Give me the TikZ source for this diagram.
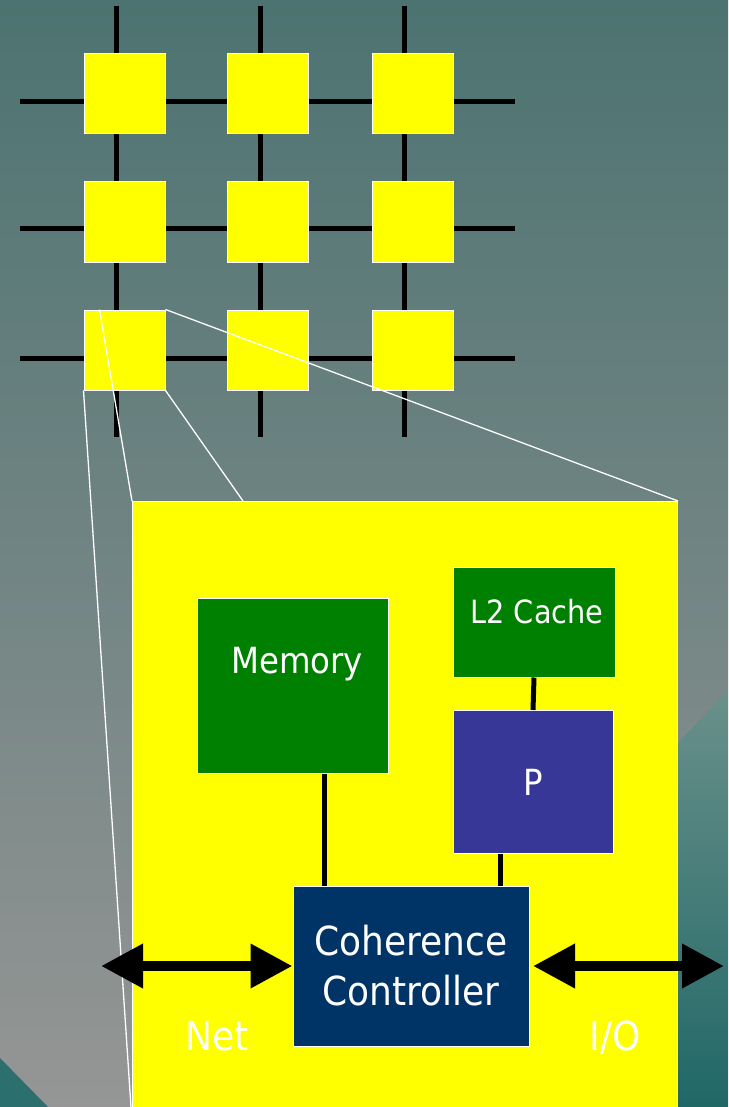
\documentclass[tikz,border=0pt]{standalone}
\usepackage{fontspec}
\setmainfont{DejaVu Sans}[FakeStretch=0.9]
\usepackage{xcolor}
\usetikzlibrary{arrows.meta,positioning,calc}
\definecolor{bgtop}{HTML}{4C7371}
\definecolor{bgmid}{HTML}{858C8B}
\definecolor{bgbot}{HTML}{959695}
\definecolor{tealtop}{HTML}{6A908B}
\definecolor{tealbot}{HTML}{206866}
\definecolor{tileyellow}{RGB}{255,255,0}
\definecolor{memgreen}{RGB}{0,128,0}
\definecolor{cpublue}{RGB}{54,55,151}
\definecolor{ccblue}{RGB}{0,51,102}

\begin{document}
\begin{tikzpicture}[
        x=1pt, y=-1pt,
        tile/.style={
            draw=white,
            line width=1pt,
            fill=tileyellow,
            inner sep=0pt,
            minimum width=81pt,
            minimum height=80pt
        },
        unit/.style={
            draw=white,
            line width=1pt,
            text=white,
            inner sep=0pt,
            align=center
        },
        link/.style={line width=5pt},
        wire/.style={line width=5pt},
        zoomline/.style={draw=white, line width=1.3pt},
        bidir/.style={line width=10pt,
            {Triangle[length=42pt,width=42pt]}-{Triangle[length=42pt,width=42pt]}}
    ]
        \useasboundingbox (0,0) rectangle (728,1107);
        \clip (0,0) rectangle (728,1107);

        % background
        \shade[top color=bgtop, middle color=bgmid, bottom color=bgbot] (0,0) rectangle (728,1107);
        \shade[top color=tealtop, bottom color=tealbot] (600,826) -- (728,690) -- (728,1107) -- (600,1107) -- cycle;
        \fill[tealbot!95!white] (0,1058) -- (48,1107) -- (0,1107) -- cycle;

        % mesh
        \foreach \lx in {116,260,404}
            \draw[link] (\lx,6) -- (\lx,437);
        \foreach \ly in {102,229,358}
            \draw[link] (20,\ly) -- (515,\ly);
        \foreach \cx [count=\c] in {124.5,268,412.5}
            \foreach \cy [count=\r] in {93.5,222,350}
                \node[tile] (t\r\c) at (\cx,\cy) {};

        % blown-up node
        \node[tile, anchor=north west, minimum width=545pt, minimum height=620pt] (core) at (132,501) {};
        \draw[zoomline] (t31.south west) -- (core.south west);
        \draw[zoomline] ([xshift=16pt]t31.north west) -- (core.north west);
        \draw[zoomline] (t31.south east) -- ([xshift=111pt]core.north west);
        \draw[zoomline] (t31.north east) -- (core.north east);

        \node[unit, fill=memgreen, minimum width=191pt, minimum height=175pt,
            label={[text=white, font=\fontsize{36}{40}\selectfont, xshift=4.5pt, yshift=21pt]center:Memory}]
            (mem) at (292.5,685.5) {};
        \node[unit, fill=memgreen, minimum width=162pt, minimum height=110pt,
            label={[text=white, font=\fontsize{32}{36}\selectfont, xshift=3pt, yshift=10pt]center:L2 Cache}]
            (l2) at (534,622) {};
        \node[unit, fill=cpublue, minimum width=160pt, minimum height=143pt,
            font=\fontsize{36}{40}\selectfont] (p) at (533,782) {P};
        \node[unit, fill=ccblue, minimum width=236pt, minimum height=160pt,
            font=\fontsize{40}{50}\selectfont] (cc) at (411,966) {Coherence\\Controller};

        \draw[wire] ($(mem.south)+(31.5,0)$) -- ($(mem.south |- cc.north)+(31.5,0)$);
        \draw[wire] (l2.south) -- (p.north);
        \draw[wire] ($(p.south)+(-33,0)$) -- ($(p.south |- cc.north)+(-33,0)$);

        \coordinate (netend) at (101,966);
        \coordinate (ioend) at (724,966);
        \draw[bidir] (netend) -- (cc.west);
        \draw[bidir] ([xshift=3.5pt]cc.east) -- (ioend);

        \node[text=white, font=\fontsize{40}{44}\selectfont, anchor=base] (net) at (217,1050) {Net};
        \node[text=white, font=\fontsize{40}{44}\selectfont, anchor=base] (io) at (615,1050) {I/O};
    \end{tikzpicture}
\end{document}
